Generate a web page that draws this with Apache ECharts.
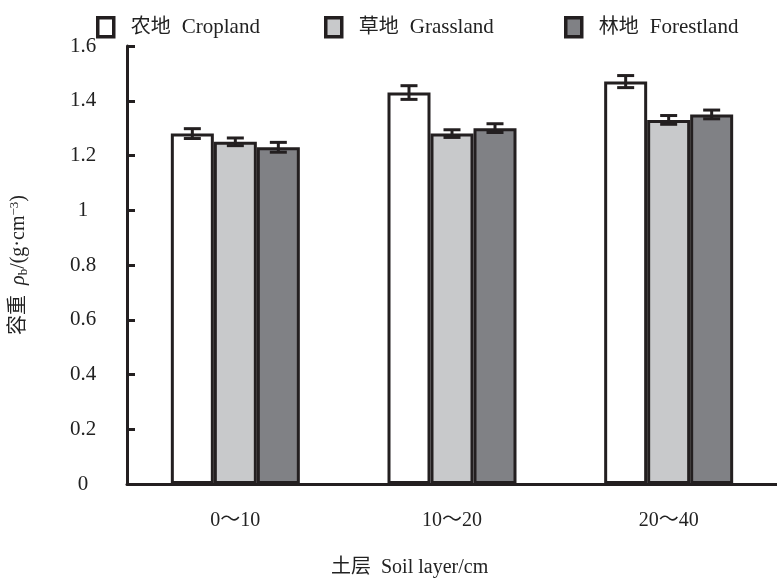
<!DOCTYPE html>
<html>
<head>
<meta charset="utf-8">
<script src="https://cdn.jsdelivr.net/npm/echarts@6/dist/echarts.min.js"></script>
<style>html,body{margin:0;padding:0;background:#fff}#c{width:777px;height:581px}</style>
</head>
<body>
<div id="c"></div>
<script>
const categories = ['0～10', '10～20', '20～40'];
const seriesNames = ['农地 Cropland', '草地 Grassland', '林地 Forestland'];
const cropland = [1.28, 1.43, 1.47];
const grassland = [1.25, 1.28, 1.33];
const forestland = [1.23, 1.30, 1.35];
const croplandErr = [0.018, 0.025, 0.022];
const grasslandErr = [0.014, 0.014, 0.016];
const forestlandErr = [0.018, 0.016, 0.016];
const yTicks = { min: 0, max: 1.6, interval: 0.2 };

const fills = ['#ffffff', '#c8c9cb', '#808185'];
const ink = '#231f20';
const FONT = '"Liberation Serif", "Times New Roman", "Noto Sans CJK SC", serif';
const BW = 43;

const values = [cropland, grassland, forestland];
const errs = [croplandErr, grasslandErr, forestlandErr];

const chart = echarts.init(document.getElementById('c'));
const series = [];
values.forEach((v, k) => {
  series.push({
    name: seriesNames[k], type: 'bar', data: v, barWidth: BW, barGap: '0%',
    itemStyle: { color: fills[k], borderColor: ink, borderWidth: 3 },
    z: 2
  });
});
values.forEach((v, k) => {
  series.push({
    type: 'custom', name: 'err' + k, z: 5, silent: true,
    data: v.map((val, i) => [i, val, errs[k][i]]),
    renderItem: function (params, api) {
      const i = api.value(0), val = api.value(1), e = api.value(2);
      const off = (k - 1) * BW;
      const top = api.coord([i, val + e]);
      const bot = api.coord([i, val - e]);
      const x = top[0] + off;
      const hw = 8.5;
      const st = { stroke: ink, lineWidth: 3 };
      return {
        type: 'group',
        children: [
          { type: 'line', shape: { x1: x, y1: top[1], x2: x, y2: bot[1] }, style: st },
          { type: 'line', shape: { x1: x - hw, y1: top[1], x2: x + hw, y2: top[1] }, style: st },
          { type: 'line', shape: { x1: x - hw, y1: bot[1], x2: x + hw, y2: bot[1] }, style: st }
        ]
      };
    }
  });
});

const legendLefts = [96, 324, 564];
const legends = seriesNames.map((n, k) => ({
  data: [n], left: legendLefts[k], top: 16, padding: 0,
  itemWidth: 16, itemHeight: 19, icon: 'rect',
  itemStyle: { borderColor: ink, borderWidth: 3.5 },
  formatter: function (name) {
    const p = name.split(' ');
    return '{c|' + p[0] + '}{e|' + p[1] + '}';
  },
  textStyle: {
    fontFamily: FONT, fontSize: 21, color: '#222',
    rich: {
      c: { fontFamily: FONT, fontSize: 20, color: '#222', padding: [0, 0, 0, 12] },
      e: { fontFamily: FONT, fontSize: 21, color: '#222', padding: [0, 0, 0, 11] }
    }
  }
}));

chart.setOption({
  animation: false,
  textStyle: { fontFamily: FONT },
  grid: { left: 120, right: -11, top: 46, bottom: 97, containLabel: false },
  legend: legends,
  xAxis: {
    type: 'category', data: categories,
    axisLine: { lineStyle: { color: ink, width: 3 } },
    axisTick: { show: false },
    axisLabel: { fontFamily: FONT, fontSize: 20, color: '#222', margin: 27 }
  },
  yAxis: {
    type: 'value', min: yTicks.min, max: yTicks.max, interval: yTicks.interval,
    splitLine: { show: false },
    axisLine: { show: true, lineStyle: { color: ink, width: 3 } },
    axisTick: { show: true, inside: true, length: 8, lineStyle: { color: ink, width: 3 } },
    axisLabel: { fontFamily: FONT, fontSize: 21, color: '#222', margin: 44, align: 'center' },
    name: '{a|容重  }{r|ρ}{s|b}{a|/(g·cm}{p|−3}{a|)}',
    nameLocation: 'middle', nameGap: 97, nameRotate: 90,
    nameTextStyle: {
      rich: {
        a: { fontFamily: FONT, fontSize: 20, color: '#222' },
        r: { fontFamily: FONT, fontSize: 20, color: '#222', fontStyle: 'italic' },
        s: { fontFamily: FONT, fontSize: 13, color: '#222', verticalAlign: 'bottom', padding: [9, 0, 0, 0] },
        p: { fontFamily: FONT, fontSize: 13, color: '#222', verticalAlign: 'top', padding: [0, 0, 9, 0] }
      }
    }
  },
  graphic: [{
    type: 'text', left: 331, top: 558,
    style: { text: '土层  Soil layer/cm', font: '20px ' + FONT, fill: '#222' }
  }],
  series: series
});
</script>
</body>
</html>
